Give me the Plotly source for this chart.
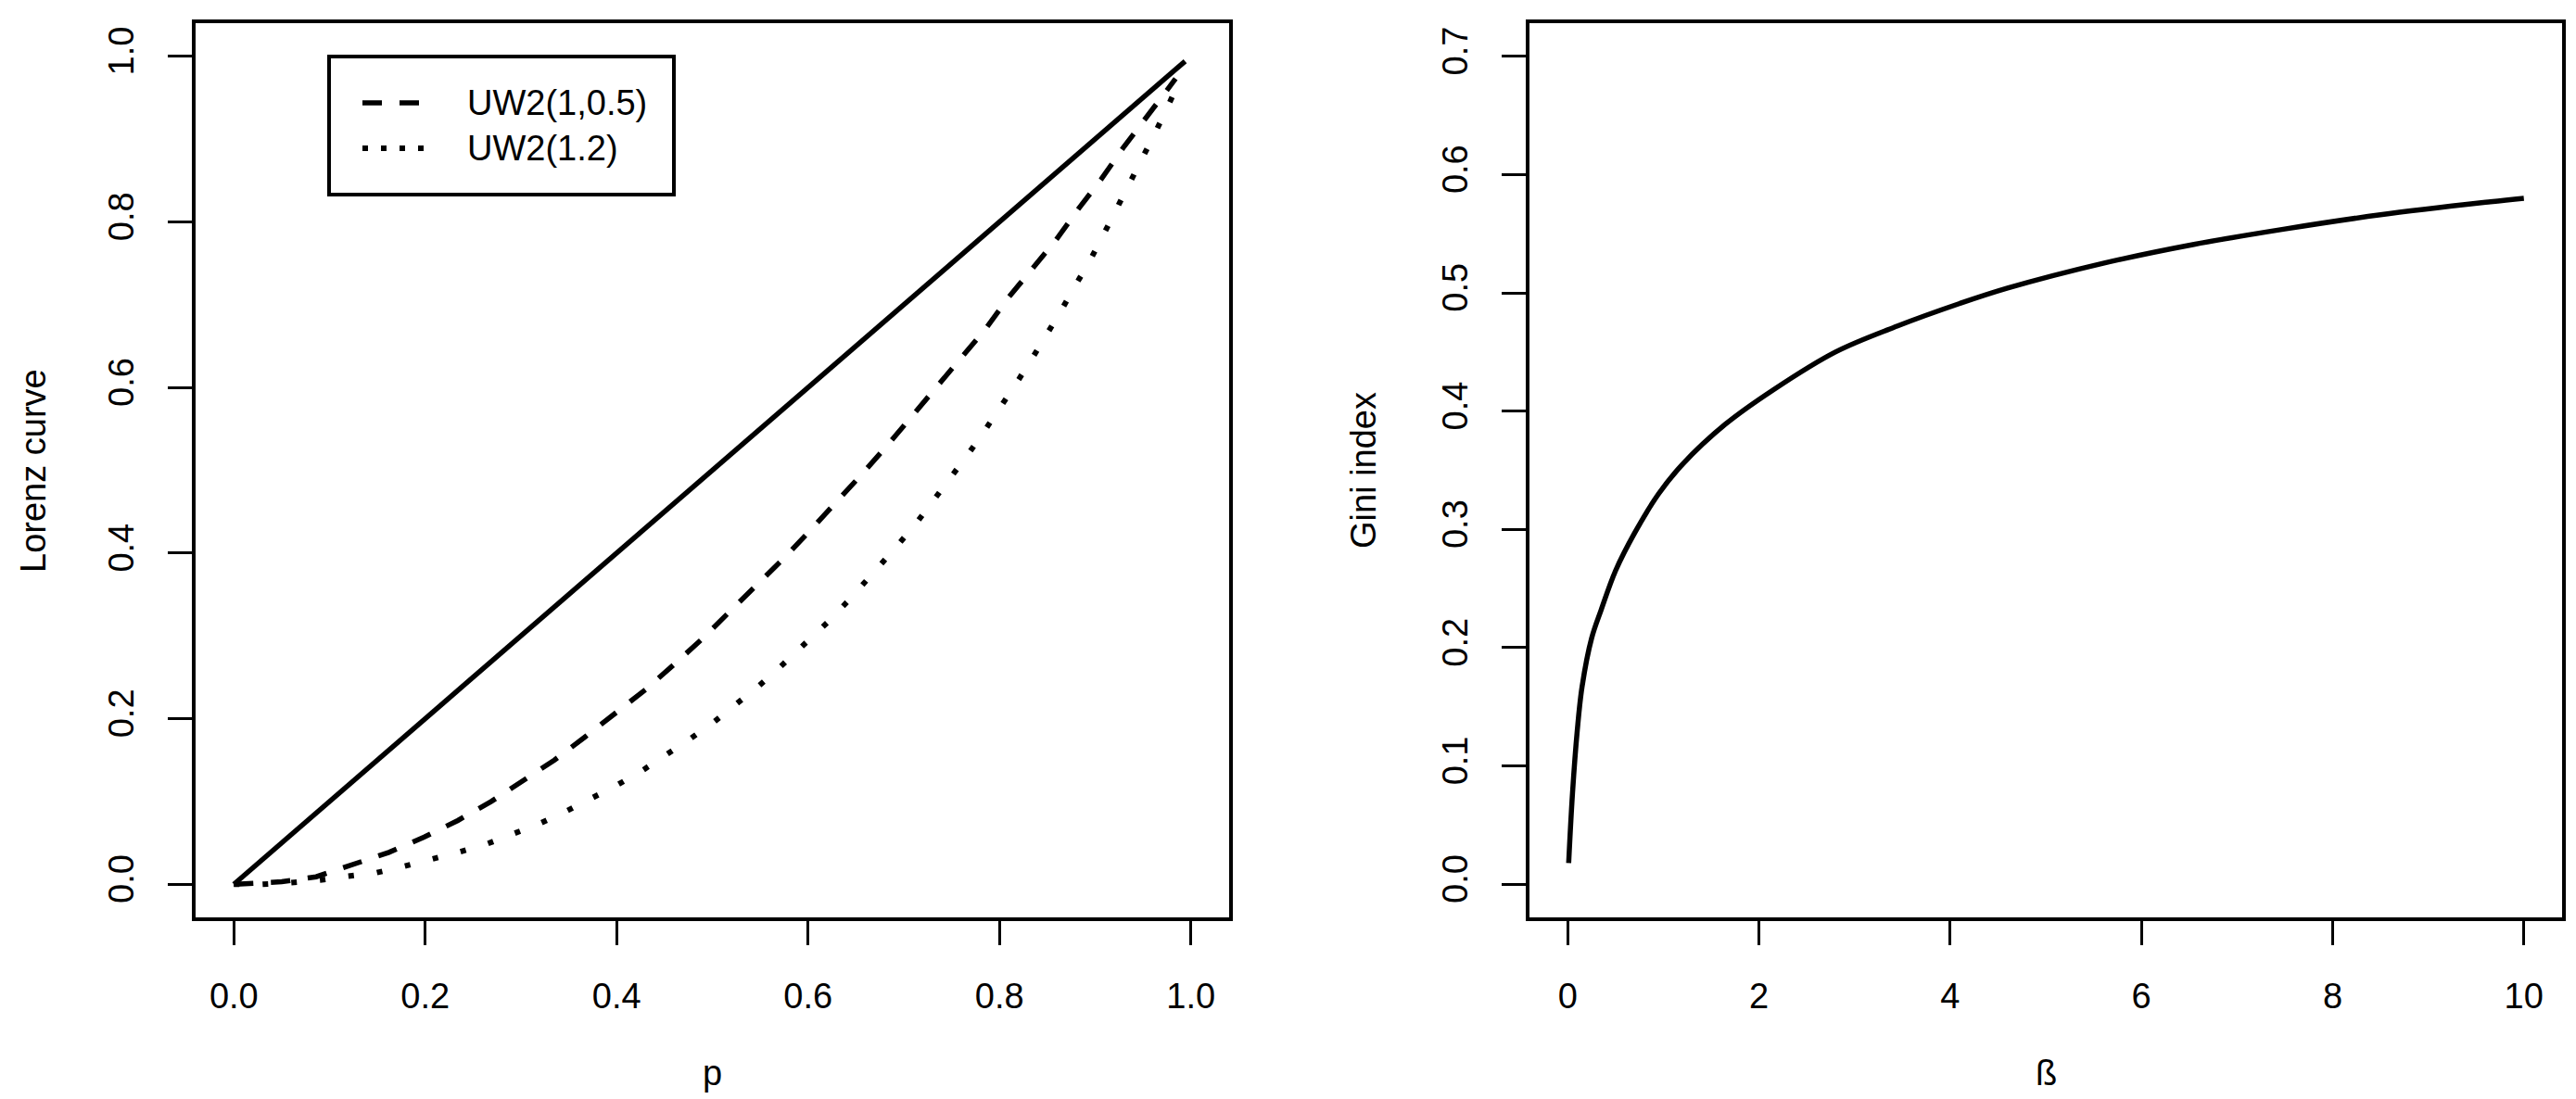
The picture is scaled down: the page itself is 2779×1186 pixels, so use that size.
import plotly.graph_objects as go

# Lorenz curves (left panel)
p_equal = [0.0, 0.994]
L_equal = [0.0, 0.994]

p_uw2_a = [0, 0.05, 0.086, 0.125, 0.162, 0.199, 0.234, 0.269, 0.303, 0.335, 0.367, 0.399,
           0.43, 0.46, 0.489, 0.517, 0.546, 0.574, 0.602, 0.629, 0.656, 0.682, 0.708, 0.734,
           0.759, 0.785, 0.809, 0.834, 0.859, 0.882, 0.906, 0.929, 0.954, 0.977, 0.984]
L_uw2_a = [0, 0.003, 0.009, 0.0235, 0.0385, 0.057, 0.077, 0.100, 0.125, 0.150, 0.178, 0.206,
           0.235, 0.2655, 0.296, 0.328, 0.360, 0.393, 0.427, 0.460, 0.495, 0.529, 0.564, 0.599,
           0.634, 0.670, 0.708, 0.742, 0.778, 0.815, 0.851, 0.889, 0.926, 0.962, 0.973]

p_uw2_b = [0, 0.03, 0.06, 0.09, 0.119, 0.149, 0.178, 0.207, 0.2355, 0.265, 0.292, 0.320,
           0.347, 0.374, 0.400, 0.426, 0.451, 0.476, 0.5005, 0.524, 0.547, 0.5695, 0.5915,
           0.62, 0.645, 0.67, 0.694, 0.713, 0.731, 0.749, 0.767, 0.784, 0.801, 0.817, 0.833,
           0.849, 0.864, 0.879, 0.894, 0.908, 0.922, 0.935, 0.949, 0.962, 0.975, 0.988]
L_uw2_b = [0, 0.0, 0.002, 0.005, 0.0097, 0.014, 0.0217, 0.030, 0.039, 0.049, 0.061, 0.0735,
           0.088, 0.1034, 0.1195, 0.1367, 0.155, 0.175, 0.195, 0.216, 0.238, 0.261, 0.284,
           0.316, 0.346, 0.378, 0.410, 0.436, 0.463, 0.491, 0.519, 0.547, 0.5755, 0.604, 0.633,
           0.663, 0.692, 0.7226, 0.752, 0.783, 0.814, 0.844, 0.875, 0.906, 0.937, 0.970]

# Gini index vs beta (right panel)
beta = [0.01, 0.05, 0.1, 0.15, 0.25, 0.35, 0.5, 0.7, 0.95, 1.2, 1.65, 2.15, 2.8, 3.45,
        4.1, 4.6, 5.6, 6.55, 7.5, 8.5, 9.65, 10]
gini = [0.018, 0.077, 0.13, 0.167, 0.208, 0.232, 0.265, 0.297, 0.330, 0.355, 0.389, 0.418,
        0.450, 0.472, 0.491, 0.504, 0.525, 0.541, 0.554, 0.566, 0.577, 0.580]

legend_labels = ["UW2(1,0.5)", "UW2(1.2)"]

W, H = 2779, 1186
FONT = "Liberation Sans, Arial, sans-serif"
FS = 38
LW = 5.5

fig = go.Figure()
fig.add_trace(go.Scatter(x=p_equal, y=L_equal, mode="lines", showlegend=False,
                         line=dict(color="black", width=LW)))
fig.add_trace(go.Scatter(x=p_uw2_a, y=L_uw2_a, mode="lines", name=legend_labels[0],
                         showlegend=False,
                         line=dict(color="black", width=LW, dash="21px,19px")))
fig.add_trace(go.Scatter(x=p_uw2_b, y=L_uw2_b, mode="lines", name=legend_labels[1],
                         showlegend=False,
                         line=dict(color="black", width=6, dash="6px,25px")))
fig.add_trace(go.Scatter(x=beta, y=gini, mode="lines", showlegend=False,
                         xaxis="x2", yaxis="y2",
                         line=dict(color="black", width=LW, shape="spline", smoothing=1.0)))

ydom = [1 - 982 / H, 1 - 17 / H]
axis_common = dict(showgrid=False, zeroline=False, showline=True, mirror=True,
                   linecolor="black", linewidth=4, ticks="outside", ticklen=26,
                   tickwidth=3, tickcolor="black", tickformat=".1f",
                   tickfont=dict(family=FONT, size=FS, color="black"),
                   ticklabelstandoff=22)

# legend box drawn R-style: frame, key lines and labels
shapes = [
    dict(type="rect", xref="paper", yref="paper", x0=347 / W, x1=719 / W,
         y0=1 - 202 / H, y1=1 - 53 / H, line=dict(color="black", width=4),
         fillcolor="white", layer="above"),
    dict(type="line", xref="paper", yref="paper", x0=383 / W, x1=449 / W,
         y0=1 - 103 / H, y1=1 - 103 / H,
         line=dict(color="black", width=LW, dash="21px,19px")),
    dict(type="line", xref="paper", yref="paper", x0=383 / W, x1=449 / W,
         y0=1 - 152 / H, y1=1 - 152 / H,
         line=dict(color="black", width=6, dash="6px,14px")),
]

annotations = [
    dict(text=legend_labels[0], x=494 / W, y=1 - 103 / H, xref="paper", yref="paper",
         xanchor="left", yanchor="middle", showarrow=False, font=dict(family=FONT, size=FS)),
    dict(text=legend_labels[1], x=494 / W, y=1 - 152 / H, xref="paper", yref="paper",
         xanchor="left", yanchor="middle", showarrow=False, font=dict(family=FONT, size=FS)),
    dict(text="Lorenz curve", x=28 / W, y=(1 - 500 / H), xref="paper", yref="paper",
         xanchor="center", yanchor="middle",
         textangle=-90, showarrow=False, font=dict(family=FONT, size=FS)),
    dict(text="Gini index", x=1463 / W, y=(1 - 500 / H), xref="paper", yref="paper",
         xanchor="center", yanchor="middle",
         textangle=-90, showarrow=False, font=dict(family=FONT, size=FS)),
    dict(text="p", x=760 / W, y=1 - 1150 / H, xref="paper", yref="paper",
         xanchor="center", yanchor="middle", showarrow=False, font=dict(family=FONT, size=FS)),
    dict(text="ß", x=2199 / W, y=1 - 1150 / H, xref="paper", yref="paper",
         xanchor="center", yanchor="middle", showarrow=False, font=dict(family=FONT, size=FS)),
]

fig.update_layout(
    width=W, height=H,
    paper_bgcolor="white", plot_bgcolor="white",
    margin=dict(l=0, r=0, t=0, b=0),
    font=dict(family=FONT, size=FS, color="black"),
    showlegend=False,
    xaxis=dict(domain=[203 / W, 1318 / W], range=[-0.04, 1.04],
               tickvals=[0, 0.2, 0.4, 0.6, 0.8, 1.0], anchor="y", **axis_common),
    yaxis=dict(domain=ydom, range=[-0.04, 1.04], tickangle=-90,
               tickvals=[0, 0.2, 0.4, 0.6, 0.8, 1.0], anchor="x", **axis_common),
    xaxis2=dict(domain=[1642 / W, 2756 / W], range=[-0.4, 10.4],
                tickvals=[0, 2, 4, 6, 8, 10], anchor="y2",
                **{**axis_common, "tickformat": "d"}),
    yaxis2=dict(domain=ydom, range=[-0.028, 0.728], tickangle=-90,
                tickvals=[0, 0.1, 0.2, 0.3, 0.4, 0.5, 0.6, 0.7], anchor="x2", **axis_common),
    shapes=shapes,
    annotations=annotations,
)

fig.write_html("out.html")
